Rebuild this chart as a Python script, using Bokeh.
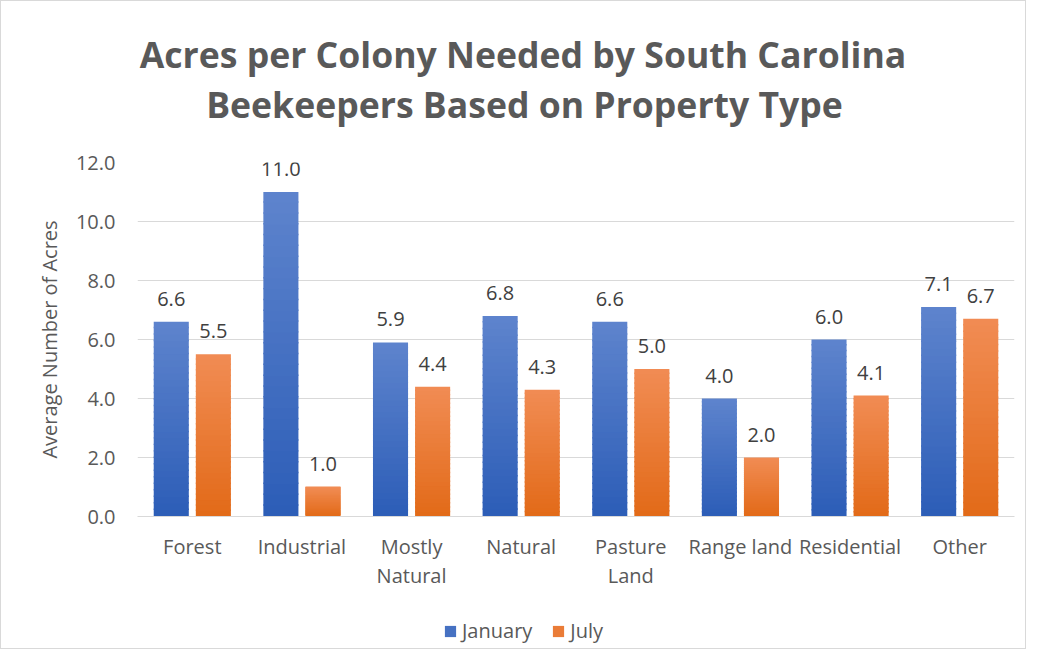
from bokeh.plotting import figure
from bokeh.layouts import column
from bokeh.models import (ColumnDataSource, Range1d, FixedTicker, Label, Legend,
                          LegendItem, LabelSet, PrintfTickFormatter)
from bokeh.core.properties import value
from bokeh.embed import file_html
from bokeh.resources import INLINE

# ---- data ----
categories = ["Forest", "Industrial", "Mostly\nNatural", "Natural", "Pasture\nLand",
              "Range land", "Residential", "Other"]
january = [6.6, 11.0, 5.9, 6.8, 6.6, 4.0, 6.0, 7.1]
july = [5.5, 1.0, 4.4, 4.3, 5.0, 2.0, 4.1, 6.7]
series_names = ["January", "July"]
y_ticks = [0, 2, 4, 6, 8, 10, 12]
title_lines = ["Acres per Colony Needed by South Carolina",
               "Beekeepers Based on Property Type"]
y_label = "Average Number of Acres"

# ---- styling ----
BLUE_TOP, BLUE_BOT = (94, 132, 205), (44, 93, 183)
ORANGE_TOP, ORANGE_BOT = (241, 140, 84), (226, 106, 24)
TEXT = "#595959"
FONT = "Open Sans"
BAR_W = 0.32
OFFSET = 0.192
N_SLICES = 30
W = 1024
ML, MR = 136, 11          # left / right borders shared by all stacked figures


def hexc(c):
    return "#%02x%02x%02x" % tuple(int(round(v)) for v in c)


def mix(top, bot, t):
    return hexc([bot[j] + (top[j] - bot[j]) * t for j in range(3)])


def gradient_source(vals, offset, top, bot):
    left, right, bottom, topv, color = [], [], [], [], []
    for i, v in enumerate(vals):
        for k in range(N_SLICES):
            left.append(i + offset - BAR_W / 2)
            right.append(i + offset + BAR_W / 2)
            bottom.append(v * k / N_SLICES)
            topv.append(v * (k + 1) / N_SLICES + (0.0 if k == N_SLICES - 1 else 0.05))
            color.append(mix(top, bot, (k + 0.5) / N_SLICES))
    return ColumnDataSource(dict(left=left, right=right, bottom=bottom, top=topv, color=color))


def bare(fig):
    fig.outline_line_color = None
    fig.xgrid.grid_line_color = None
    fig.ygrid.grid_line_color = None
    fig.background_fill_color = None
    fig.border_fill_color = "white"


src_jan = gradient_source(january, -OFFSET, BLUE_TOP, BLUE_BOT)
src_jul = gradient_source(july, OFFSET, ORANGE_TOP, ORANGE_BOT)

# ---------- title block (x in page pixels) ----------
TH = 140
pt = figure(width=W, height=TH, output_backend="svg", toolbar_location=None,
            x_range=Range1d(ML, W - MR), y_range=Range1d(0, TH),
            x_axis_location=None, y_axis_location=None,
            min_border_left=ML, min_border_right=MR, min_border_top=0, min_border_bottom=0)
bare(pt)
pt.add_layout(Label(x=521.5, y=TH - 52, text=title_lines[0], text_align="center",
                    text_baseline="middle", text_font=FONT, text_font_size="35.6px",
                    text_font_style="bold", text_color=TEXT))
pt.add_layout(Label(x=523, y=TH - 102, text=title_lines[1], text_align="center",
                    text_baseline="middle", text_font=FONT, text_font_size="35.6px",
                    text_font_style="bold", text_color=TEXT))

# ---------- main chart ----------
p = figure(width=W, height=455, output_backend="svg", toolbar_location=None,
           x_range=Range1d(-0.5, 7.5), y_range=Range1d(0, 12),
           min_border_left=ML, min_border_right=MR, min_border_top=21,
           min_border_bottom=80)
p.outline_line_color = None
p.background_fill_color = "white"
p.border_fill_color = "white"

p.quad(left="left", right="right", bottom="bottom", top="top",
       fill_color="color", line_color=None, source=src_jan)
p.quad(left="left", right="right", bottom="bottom", top="top",
       fill_color="color", line_color=None, source=src_jul)

lab_x = [i - OFFSET for i in range(len(january))] + [i + OFFSET for i in range(len(july))]
lab_y = list(january) + list(july)
lab_t = ["%.1f" % v for v in lab_y]
lab_src = ColumnDataSource(dict(x=lab_x, y=lab_y, t=lab_t))
p.add_layout(LabelSet(x="x", y="y", text="t", source=lab_src, text_align="center",
                      text_baseline="alphabetic", y_offset=16, text_font=value(FONT),
                      text_font_size=value("20px"), text_color="#404040"))

p.yaxis.ticker = FixedTicker(ticks=y_ticks)
p.yaxis.formatter = PrintfTickFormatter(format="%.1f")
p.yaxis.axis_line_color = None
p.yaxis.major_tick_line_color = None
p.yaxis.minor_tick_line_color = None
p.yaxis.major_tick_out = 0
p.yaxis.minor_tick_out = 0
p.yaxis.major_label_text_font = FONT
p.yaxis.major_label_text_font_size = "20px"
p.yaxis.major_label_text_color = TEXT
p.yaxis.major_label_standoff = 22
p.yaxis.axis_label = y_label
p.yaxis.axis_label_text_font = FONT
p.yaxis.axis_label_text_font_size = "20px"
p.yaxis.axis_label_text_font_style = "normal"
p.yaxis.axis_label_text_color = TEXT
p.yaxis.axis_label_standoff = 10

p.xaxis.ticker = FixedTicker(ticks=list(range(len(categories))))
p.xaxis.major_label_overrides = {i: c for i, c in enumerate(categories)}
p.xaxis.axis_line_color = "#D9D9D9"
p.xaxis.axis_line_width = 1
p.xaxis.major_tick_line_color = None
p.xaxis.minor_tick_line_color = None
p.xaxis.major_tick_out = 0
p.xaxis.minor_tick_out = 0
p.xaxis.major_label_text_font = FONT
p.xaxis.major_label_text_font_size = "20px"
p.xaxis.major_label_text_color = TEXT
p.xaxis.major_label_text_line_height = 1.1
p.xaxis.major_label_standoff = 16

p.xgrid.grid_line_color = None
p.ygrid.grid_line_color = "#D9D9D9"
p.ygrid.grid_line_width = 1

# ---------- legend block (series swatches reuse the bar sources) ----------
pl = figure(width=W, height=52, output_backend="svg", toolbar_location=None,
            x_range=Range1d(100, 101), y_range=Range1d(100, 101),
            x_axis_location=None, y_axis_location=None,
            min_border_left=ML, min_border_right=MR, min_border_top=0, min_border_bottom=0)
bare(pl)
lg_jan = pl.quad(left="left", right="right", bottom="bottom", top="top",
                 fill_color="color", line_color=None, source=src_jan)
lg_jul = pl.quad(left="left", right="right", bottom="bottom", top="top",
                 fill_color="color", line_color=None, source=src_jul)
mid = N_SLICES // 2
legend = Legend(items=[LegendItem(label=series_names[0], renderers=[lg_jan], index=mid),
                       LegendItem(label=series_names[1], renderers=[lg_jul], index=mid)],
                orientation="horizontal", location=(306, 4),
                glyph_width=14, glyph_height=14, label_standoff=5, spacing=19,
                label_text_font=FONT, label_text_font_size="20px",
                label_text_color=TEXT, border_line_color=None,
                background_fill_alpha=0, padding=0, margin=0)
pl.add_layout(legend, "center")

layout = column(pt, p, pl, spacing=0)
layout.styles = {"border": "1px solid #D9D9D9"}

open("out.html", "w").write(file_html(layout, INLINE))
